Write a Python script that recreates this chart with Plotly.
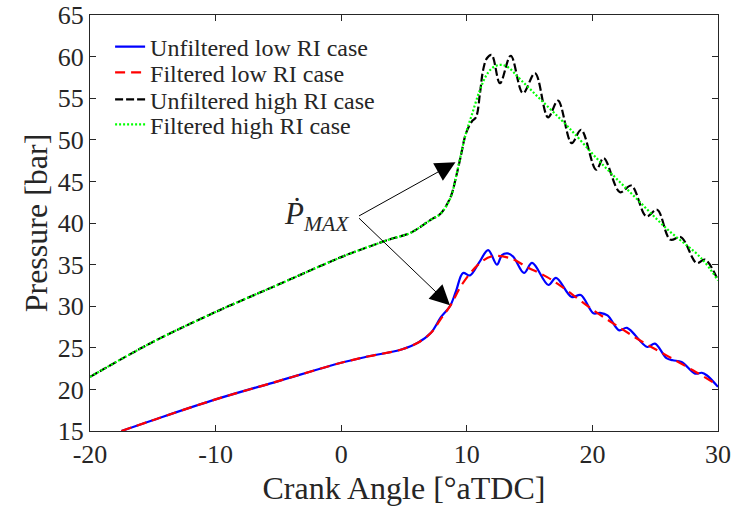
import plotly.graph_objects as go

# ---------------- data ----------------
# Unfiltered high RI case
hu_x = [-20, -15, -10, -5, 0, 2.1, 4.0, 5.5, 7.15, 7.9, 8.7, 9.14, 9.5, 9.94, 10.4, 10.73,
        11.05, 11.3, 11.6, 11.98, 12.64, 13.5, 14.47, 15.43, 16.47, 17.26, 18.35, 19.1,
        20.3, 20.9, 22.2, 23.1, 24.3, 25.15, 26.2, 27.05, 28.3, 28.96, 30]
hu_y = [21.5, 25.7, 29.3, 32.6, 35.9, 37.1, 38.1, 38.8, 40.4, 41.1, 43.1, 45.5, 47.9, 50.8, 52.2, 52.7,
        55.6, 58.4, 59.8, 60.2, 56.8, 60.1, 55.6, 58.0, 52.7, 54.7, 49.6, 51.2,
        46.4, 47.8, 43.7, 44.5, 40.8, 41.6, 38.0, 38.3, 35.2, 35.6, 33.1]

# Filtered high RI case
hf_x = [-20, -15, -10, -5, 0, 2.1, 4.0, 5.5, 7.15, 7.9, 8.7, 9.1, 9.5, 9.9, 10.4, 11.0,
        11.5, 12.0, 12.6, 13.2, 14.3, 15.9, 18.1, 20.7, 23.4, 26.0, 28.65, 30]
hf_y = [21.5, 25.7, 29.3, 32.6, 35.9, 37.1, 38.1, 38.8, 40.4, 41.1, 43.0, 45.3, 48.0, 50.6, 53.0, 55.8,
        57.6, 58.6, 59.0, 58.8, 57.2, 54.8, 51.5, 47.2, 43.1, 39.2, 35.8, 33.1]

# Unfiltered low RI case
lu_x = [-17.5, -15, -10, -5, 0, 2.1, 4.8, 6.1, 7.15, 7.95, 8.66, 9.14, 9.7, 10.25, 11.0, 11.7,
        12.4, 12.8, 13.23, 13.7, 14.55, 15.2, 16.5, 17.1, 18.35, 19.07, 20.08, 20.6, 21.2,
        22.14, 22.75, 24.37, 24.98, 25.9, 26.4, 27.1, 28.18, 28.7, 29.1, 30]
lu_y = [15.0, 16.3, 18.8, 21.0, 23.2, 23.95, 24.8, 25.6, 26.8, 28.7, 30.0, 31.8, 34.0, 33.7, 35.3, 36.75,
        35.0, 36.15, 36.35, 35.95, 34.0, 35.2, 32.55, 33.4, 31.1, 31.35, 29.15, 29.2, 28.9,
        27.1, 27.4, 25.1, 25.5, 23.75, 23.5, 23.3, 21.9, 22.0, 21.7, 20.3]

# Filtered low RI case
lf_x = [-17.5, -15, -10, -5, 0, 2.1, 4.8, 6.1, 7.15, 7.95, 8.66, 9.7, 11.05, 12.0, 13.4, 14.8,
        16.4, 17.7, 20, 22, 24, 26, 28, 30]
lf_y = [15.0, 16.3, 18.8, 21.0, 23.2, 23.95, 24.8, 25.6, 26.8, 28.5, 30.0, 32.8, 35.2, 36.0, 35.8, 34.7,
        33.5, 32.2, 29.6, 27.6, 25.7, 24.0, 22.3, 20.5]

names = ["Unfiltered low RI case", "Filtered low RI case",
         "Unfiltered high RI case", "Filtered high RI case"]

x_ticks = [-20, -10, 0, 10, 20, 30]
y_ticks = [15, 20, 25, 30, 35, 40, 45, 50, 55, 60, 65]

# annotation: text location, arrow tail, arrow heads
label_xy = (-1.95, 40.9)
tail_xy = (1.3, 40.75)
head1_xy = (9.1, 47.3)
head2_xy = (8.66, 30.1)

FONT = "Liberation Serif"
TXT = "#262626"

fig = go.Figure()
traces = [
    (lu_x, lu_y, dict(color="#0000ff", width=2.2)),
    (lf_x, lf_y, dict(color="#ff0000", width=2.2, dash="10px,6px")),
    (hu_x, hu_y, dict(color="#000000", width=2.2, dash="8px,3px")),
    (hf_x, hf_y, dict(color="#00ff00", width=2.2, dash="2px,2px")),
]
legend_ids = ["legend", "legend2", "legend3", "legend4"]
for (xs, ys, ln), nm, lg in zip(traces, names, legend_ids):
    fig.add_trace(go.Scatter(x=xs, y=ys, name=nm, mode="lines", legend=lg,
                             line=dict(shape="spline", smoothing=1.0, **ln)))

# arrows
for hx, hy in (head1_xy, head2_xy):
    fig.add_annotation(x=hx, y=hy, ax=tail_xy[0], ay=tail_xy[1], xref="x", yref="y",
                       axref="x", ayref="y", text="", showarrow=True,
                       arrowhead=2, arrowsize=4.0, arrowwidth=1, arrowcolor="#000000",
                       font=dict(size=1))
fig.add_annotation(x=label_xy[0], y=label_xy[1], xref="x", yref="y",
                   text="<i>Ṗ</i><sub><i>MAX</i></sub>", showarrow=False,
                   font=dict(family=FONT, size=31, color=TXT))

axis_common = dict(showgrid=False, zeroline=False, showline=True, linecolor=TXT, linewidth=1,
                   mirror="ticks", ticks="inside", ticklen=6, tickcolor=TXT, tickwidth=1,
                   automargin=False,
                   tickfont=dict(family=FONT, size=26, color=TXT))

# one legend box per row so the row spacing can follow the reference
row_y = [0.923, 0.861, 0.796, 0.736]
leg_common = dict(x=0.032, xanchor="left", yanchor="middle", bgcolor="rgba(0,0,0,0)",
                  font=dict(family=FONT, size=24, color=TXT), itemwidth=30)
legends = {lid: dict(y=yy, **leg_common) for lid, yy in zip(legend_ids, row_y)}

fig.update_layout(
    width=736, height=517,
    margin=dict(l=90, r=18, t=15, b=86),
    paper_bgcolor="white", plot_bgcolor="white",
    showlegend=True,
    xaxis=dict(range=[-20, 30], tickvals=x_ticks, ticktext=[str(v) for v in x_ticks],
               title=dict(text="Crank Angle [°aTDC]", font=dict(family=FONT, size=32, color=TXT),
                          standoff=8),
               **axis_common),
    yaxis=dict(range=[15, 65], tickvals=y_ticks, ticktext=[str(v) for v in y_ticks],
               title=dict(text="Pressure [bar]", font=dict(family=FONT, size=32, color=TXT),
                          standoff=0),
               **axis_common),
    **legends,
)

fig.write_html("out.html")
